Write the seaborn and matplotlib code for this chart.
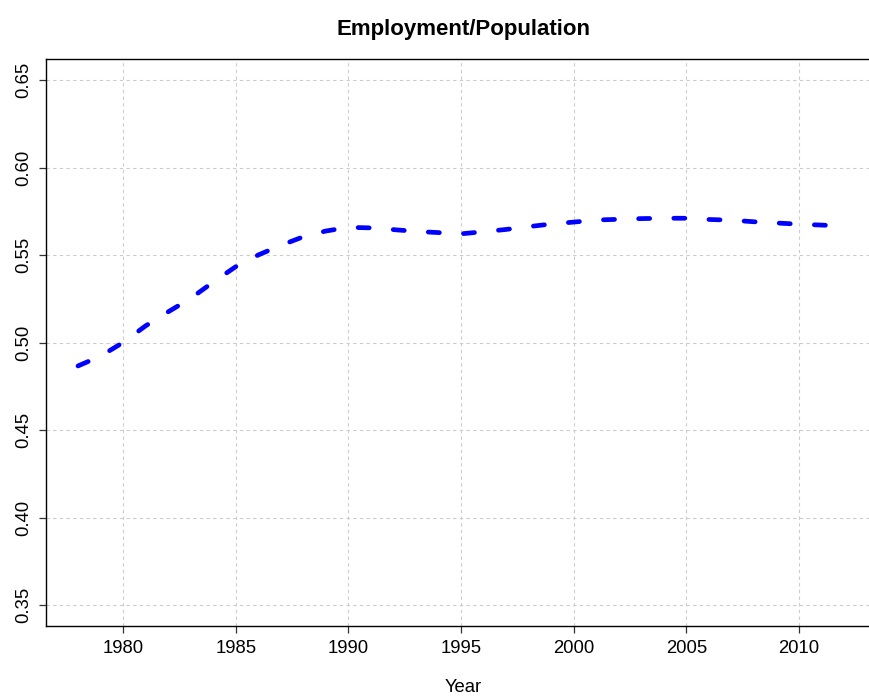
#!/usr/bin/env python3

import pandas as pd
import seaborn as sns
import matplotlib.pyplot as plt

# employment / population ratio
years = [1978, 1979, 1980, 1981, 1982, 1983, 1984, 1985, 1986, 1987,
         1988, 1989, 1990, 1991, 1992, 1993, 1994, 1995, 1996, 1997,
         1998, 1999, 2000, 2001, 2002, 2003, 2004, 2005, 2006, 2007,
         2008, 2009, 2010, 2011, 2011.5]
ratio = [0.4866, 0.4922, 0.5000, 0.5095, 0.5175, 0.5252, 0.5345, 0.5433, 0.5500, 0.5555,
         0.5604, 0.5637, 0.5658, 0.5655, 0.5645, 0.5635, 0.5628, 0.5621, 0.5633, 0.5646,
         0.5662, 0.5677, 0.5688, 0.5700, 0.5704, 0.5708, 0.5710, 0.5710, 0.5703, 0.5699,
         0.5690, 0.5683, 0.5676, 0.5671, 0.5668]
x_ticks = [1980, 1985, 1990, 1995, 2000, 2005, 2010]
y_ticks = [0.35, 0.40, 0.45, 0.50, 0.55, 0.60, 0.65]

df = pd.DataFrame({"Year": years, "ratio": ratio})

sns.set_style("white")
plt.rcParams["font.family"] = ["Liberation Sans", "DejaVu Sans"]
plt.rcParams["text.color"] = "black"
plt.rcParams["axes.labelcolor"] = "black"
plt.rcParams["xtick.color"] = "black"
plt.rcParams["ytick.color"] = "black"

fig = plt.figure(figsize=(8.7, 6.96), dpi=100)
# right edge of the plot box lies just outside the picture, as in the reference
ax = fig.add_axes([46 / 870, 70 / 696, 834 / 870, (626 - 59) / 696])

sns.lineplot(data=df, x="Year", y="ratio", ax=ax, color="blue",
             linewidth=3.4, dashes=False)
line = ax.lines[0]
line.set_linestyle((0, (2.35, 5.1)))
line.set_dash_capstyle("round")

ax.set_xlim(1976.58, 2013.6)
ax.set_ylim(0.338, 0.662)
ax.set_xticks(x_ticks)
ax.set_yticks(y_ticks)
ax.set_yticklabels([f"{v:.2f}" for v in y_ticks], rotation=90, va="center")

ax.grid(True, color="#cccccc", linestyle=(0, (3, 3)), linewidth=0.8)
ax.set_axisbelow(True)

for s in ax.spines.values():
    s.set_color("black")
    s.set_linewidth(1.0)

ax.tick_params(axis="both", which="major", direction="out", length=5, width=0.9,
               color="#333333", labelcolor="black", labelsize=13.3, pad=5,
               bottom=True, left=True)

ax.set_xlabel("Year", fontsize=13.3, labelpad=16)
ax.set_ylabel("")
ax.set_title("Employment/Population", fontsize=16, fontweight="bold", pad=17)

fig.savefig("out.png", dpi=100)
